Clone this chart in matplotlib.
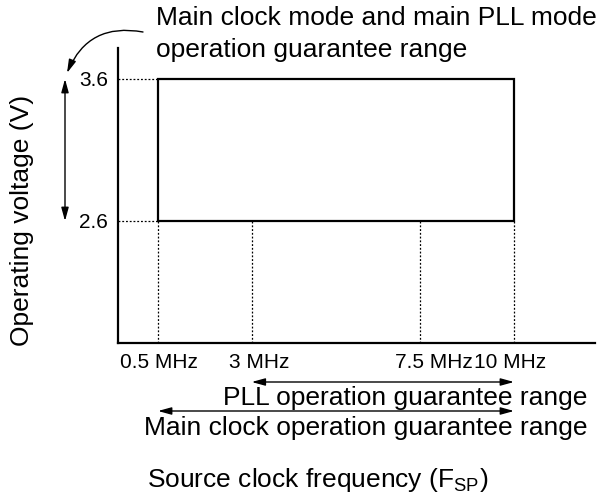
import matplotlib
matplotlib.use("Agg")
import matplotlib.pyplot as plt
import matplotlib.transforms as mtransforms
from matplotlib.patches import Rectangle

plt.rcParams['font.family'] = ['Liberation Sans', 'DejaVu Sans']
plt.rcParams['mathtext.fontset'] = 'custom'
plt.rcParams['mathtext.rm'] = 'Liberation Sans'

# Data
freq_ticks = [0.5, 3, 7.5, 10]
freq_labels = ['0.5 MHz', '3 MHz', '7.5 MHz', '10 MHz']
volt_ticks = [2.6, 3.6]
volt_labels = ['2.6', '3.6']
rect_freq = [0.5, 10]        # main clock / main PLL range
rect_volt = [2.6, 3.6]
pll_range = [3, 10]
main_range = [0.5, 10]

# label nudges (pixels) to mimic the reference's hand placement
label_dx = [1, 8, 14, -4]

W, H = 602, 496
fig = plt.figure(figsize=(W / 100, H / 100), dpi=100)
axL, axR, axT, axB = 118, 595, 48, 343
ax = fig.add_axes([axL / W, 1 - axB / H, (axR - axL) / W, (axB - axT) / H])

# scales
x0p, x1p = 158, 514
pxmhz = (x1p - x0p) / (rect_freq[1] - rect_freq[0])
ax.set_xlim(rect_freq[0] - (x0p - axL) / pxmhz, rect_freq[1] + (axR - x1p) / pxmhz)
y36, y26 = 79, 221
pxv = (y26 - y36) / (rect_volt[1] - rect_volt[0])
ax.set_ylim(rect_volt[0] - (axB - y26) / pxv, rect_volt[1] + (y36 - axT) / pxv)

def xd(px):
    return rect_freq[0] + (px - x0p) / pxmhz

def yd(py):
    return rect_volt[1] - (py - y36) / pxv

for s in ['top', 'right']:
    ax.spines[s].set_visible(False)
for s in ['left', 'bottom']:
    ax.spines[s].set_linewidth(1.6)
    ax.spines[s].set_color('black')

ax.set_xticks(freq_ticks)
ax.set_xticklabels(freq_labels, fontsize=15)
ax.set_yticks(volt_ticks)
ax.set_yticklabels(volt_labels, fontsize=15)
ax.tick_params(axis='both', length=0)
ax.tick_params(axis='x', pad=7)
ax.tick_params(axis='y', pad=7)
for lab, dx in zip(ax.get_xticklabels(), label_dx):
    lab.set_transform(lab.get_transform() +
                      mtransforms.ScaledTranslation(dx / 100, 0, fig.dpi_scale_trans))

# rectangle
ax.add_patch(Rectangle((rect_freq[0], rect_volt[0]), rect_freq[1] - rect_freq[0],
                       rect_volt[1] - rect_volt[0], fill=False, lw=1.6,
                       ec='black', zorder=3))

ls = (0, (1.5, 1.5))
xmin, _ = ax.get_xlim()
ymin, _ = ax.get_ylim()
for v in volt_ticks:
    ax.plot([xmin, rect_freq[0]], [v, v], color='black', lw=0.9, ls=ls)
for f in freq_ticks:
    ax.plot([f, f], [ymin, rect_volt[0]], color='black', lw=0.9, ls=ls)

# range arrows below axis
arrow_kw = dict(arrowstyle='<|-|>,head_length=0.8,head_width=0.22',
                color='black', lw=1.0, shrinkA=0, shrinkB=0)
ax.annotate('', xy=(pll_range[0], yd(382)), xytext=(pll_range[1], yd(382)),
            arrowprops=arrow_kw, annotation_clip=False)
ax.annotate('', xy=(main_range[0], yd(411)), xytext=(main_range[1], yd(411)),
            arrowprops=arrow_kw, annotation_clip=False)

fig.text(587 / W, 1 - 398 / H, 'PLL operation guarantee range', ha='right',
         va='center', fontsize=19)
fig.text(587 / W, 1 - 428 / H, 'Main clock operation guarantee range', ha='right',
         va='center', fontsize=19)
fig.text(318 / W, 1 - 480 / H, r'Source clock frequency (F$_{\rm SP}$)', ha='center',
         va='center', fontsize=19)

# y label
fig.text(22 / W, 1 - 220 / H, 'Operating voltage (V)', rotation=90, ha='center',
         va='center', fontsize=19)

# vertical double arrow
ax.annotate('', xy=(xd(65), rect_volt[1]), xytext=(xd(65), rect_volt[0]),
            arrowprops=arrow_kw, annotation_clip=False)

# top annotation
fig.text(156 / W, 1 - 18 / H, 'Main clock mode and main PLL mode', ha='left',
         va='center', fontsize=19)
fig.text(156 / W, 1 - 50 / H, 'operation guarantee range', ha='left',
         va='center', fontsize=19)
ax.annotate('', xy=(xd(67), yd(73)), xytext=(xd(143), yd(32)),
            arrowprops=dict(arrowstyle='-|>,head_length=0.8,head_width=0.22',
                            connectionstyle='arc3,rad=0.4', color='black',
                            lw=1.0, shrinkA=0, shrinkB=0),
            annotation_clip=False)

fig.savefig('out.png', dpi=100)
